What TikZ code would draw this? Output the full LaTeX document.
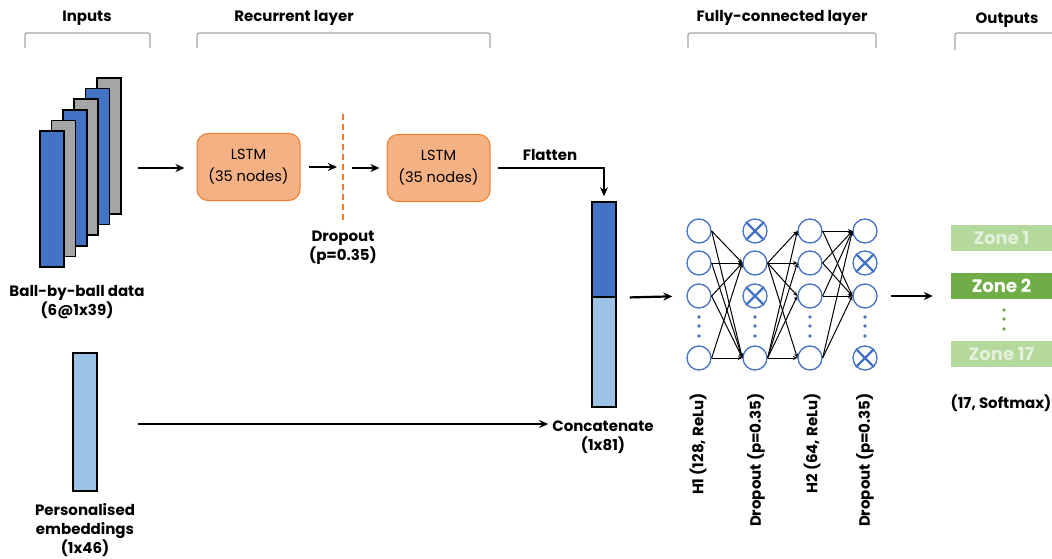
\documentclass[tikz,border=0pt]{standalone}
\usepackage{fontspec}
\setmainfont{Poppins}
\usetikzlibrary{arrows.meta,calc}
\definecolor{inblue}{HTML}{4472C4}
\definecolor{ingray}{HTML}{A5A5A5}
\definecolor{embblue}{HTML}{9DC3E6}
\definecolor{lstmfill}{HTML}{F4B183}
\definecolor{lstmline}{HTML}{ED7D31}
\definecolor{bracketgray}{HTML}{A6A6A6}
\definecolor{zonepale}{HTML}{B5D99C}
\definecolor{zonetext}{HTML}{E3F0DA}
\definecolor{zonegreen}{HTML}{70AD47}
\tikzset{
	lbl/.style={font=\bfseries\fontsize{15}{19}\selectfont, align=center, inner sep=0pt},
	layer/.style={draw=bracketgray, line width=1.2pt, rounded corners=2pt},
	slab/.style={draw=black, line width=1.5pt},
	bar/.style={draw=black, line width=1.5pt, minimum width=24pt, inner sep=0pt},
	lstm/.style={draw=lstmline, fill=lstmfill, line width=1pt, rounded corners=11pt, minimum width=103pt, minimum height=67pt, align=center, font=\fontsize{14.6}{22}\selectfont},
	flow/.style={-{Stealth[length=9pt,width=8pt]}, line width=2.2pt},
	unit/.style={circle, draw=inblue, line width=1.3pt, fill=white, minimum size=24pt, inner sep=0pt},
	cross/.style={draw=inblue, line width=2.4pt},
	link/.style={-{Stealth[length=4.5pt,width=4pt]}, line width=1pt},
	zone/.style={minimum width=101pt, minimum height=26pt, inner sep=0pt, font=\bfseries\fontsize{18}{20}\selectfont},
	vlbl/.style={lbl, rotate=90, anchor=east}
}

\begin{document}
\begin{tikzpicture}[x=1pt,y=-1pt]
	%%%%% START %%%%%
	\useasboundingbox (0,0) rectangle (1052,559);
	
	% headings and brackets
	\node[lbl] (inputs) at (87,18) {Inputs};
	\draw[layer] (25,48) -- (25,33) -- (150,33) -- (150,48);
	\node[lbl] (recurrent) at (294,18) {Recurrent layer};
	\draw[layer] (197,48) -- (197,33) -- (490,33) -- (490,48);
	\node[lbl] (dense) at (782,18) {Fully-connected layer};
	\draw[layer] (688,48) -- (688,33) -- (876,33) -- (876,48);
	\node[lbl] (outputs) at (1007,20) {Outputs};
	\draw[layer] (955,50) -- (955,33) -- (1052,33);
	
	% ball-by-ball slabs
	\foreach \i/\sc in {0/ingray,1/inblue,2/ingray,3/inblue,4/ingray,5/inblue}
		\draw[slab, fill=\sc] ({97-11.4*\i},{78+10.6*\i}) rectangle ++(24,136);
	\node[lbl] (balllbl) at (77,302) {Ball-by-ball data\\(6@1x39)};
	\coordinate (ballout) at (138,168);
	
	% embeddings
	\node[bar, fill=embblue, minimum height=138pt] (embbar) at (85,422) {};
	\node[lbl] (emblbl) at (85,530) {Personalised\\embeddings\\(1x46)};
	\coordinate (embout) at (138,424);
	
	% recurrent part
	\node[lstm] (lstm1) at (248.5,167) {LSTM\\(35 nodes)};
	\node[lstm] (lstm2) at (438.5,168) {LSTM\\(35 nodes)};
	\coordinate (droptop) at (343,114);
	\coordinate (dropbot) at (343,221);
	\draw[lstmline, line width=1.5pt, dash pattern=on 6pt off 4pt] (droptop) -- (dropbot);
	\node[lbl] (droplbl) at (343,248) {Dropout\\(p=0.35)};
	
	\draw[flow, shorten >=12pt] (ballout) -- (ballout -| lstm1.west);
	\draw[flow, shorten <=8pt, shorten >=6pt] (lstm1.east) -- (lstm1.east -| droptop);
	\draw[flow, shorten <=9pt, shorten >=7pt] (lstm2.west -| droptop) -- (lstm2.west);
	
	% concatenation
	\node[bar, fill=inblue, minimum height=95pt] (seqpart) at (604,249.5) {};
	\node[bar, fill=embblue, minimum height=110pt] (embpart) at (604,352) {};
	\node[lbl] (flatlbl) at (550,155) {Flatten};
	\node[lbl] (catlbl) at (603,437) {Concatenate\\(1x81)};
	\draw[flow, shorten <=7pt, shorten >=5pt] (lstm2.east) -| (seqpart.north);
	\draw[flow, shorten >=4pt] (embout) -- (embout -| catlbl.west);
	
	% fully-connected part
	\foreach \x/\c in {699/h1,755/d1,810/h2,865/d2} {
		\foreach \y/\r in {231/a,263/b,296/c,358/d}
			\node[unit] (\c\r) at (\x,\y) {};
		\foreach \y in {317,326,336}
			\fill[inblue] (\x,\y) circle (1.8pt);
	}
	\foreach \n in {d1a,d1c,d2b,d2d} {
		\draw[cross] (\n.north west) -- (\n.south east);
		\draw[cross] (\n.north east) -- (\n.south west);
	}
	\foreach \s in {a,b,c,d}
		\foreach \t in {b,d}
			\draw[link] (h1\s.east) -- (d1\t.west);
	\foreach \s in {b,d}
		\foreach \t in {a,b,c,d}
			\draw[link] (d1\s.east) -- (h2\t.west);
	\foreach \s in {a,b,c,d}
		\foreach \t in {a,c}
			\draw[link] (h2\s.east) -- (d2\t.west);
	\draw[flow, shorten <=13pt, shorten >=14pt] (seqpart.south east) -- (h1c.west);
	
	\node[vlbl] (h1lbl) at (698,393) {H1 (128, ReLu)};
	\node[vlbl] (d1lbl) at (756,393) {Dropout (p=0.35)};
	\node[vlbl] (h2lbl) at (812,393) {H2 (64, ReLu)};
	\node[vlbl] (d2lbl) at (865,393) {Dropout (p=0.35)};
	
	% outputs
	\node[zone, fill=zonepale, text=zonetext] (zone1) at (1001.5,238) {Zone 1};
	\node[zone, fill=zonegreen, text=white] (zone2) at (1001.5,286) {Zone 2};
	\node[zone, fill=zonepale, text=zonetext] (zone17) at (1001.5,353.5) {Zone 17};
	\foreach \y in {310,319,329}
		\fill[zonegreen] (1004,\y) circle (1.8pt);
	\node[lbl] (softlbl) at (1001,403) {(17, Softmax)};
	\draw[flow, shorten <=13pt, shorten >=18pt] (d2c.east) -- (d2c.east -| zone2.west);
	
	%%%%% END %%%%%
\end{tikzpicture}
\end{document}
